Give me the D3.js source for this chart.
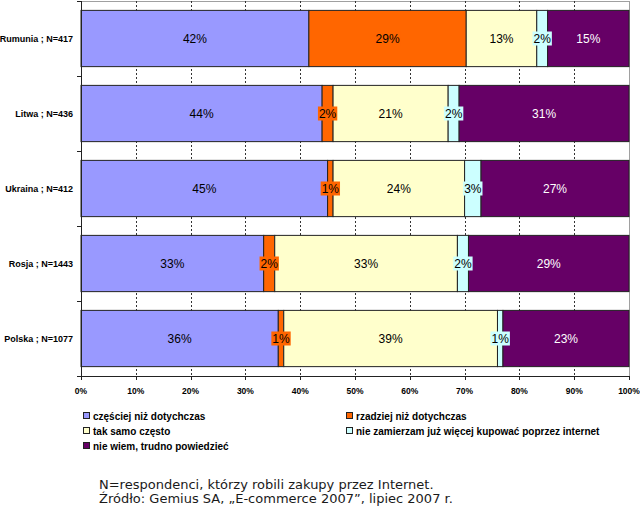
<!DOCTYPE html>
<html>
<head>
<meta charset="utf-8">
<script src="https://cdn.jsdelivr.net/npm/d3@7"></script>
<style>
  html, body { margin: 0; padding: 0; background: #fff; }
  svg { display: block; }
</style>
</head>
<body>
<svg id="chart" width="640" height="508"></svg>
<script>
// ---- data ----
const categories = ["Rumunia ; N=417", "Litwa ; N=436", "Ukraina ; N=412", "Rosja ; N=1443", "Polska ; N=1077"];
const seriesNames = ["częściej niż dotychczas", "rzadziej niż dotychczas", "tak samo często", "nie zamierzam już więcej kupować poprzez internet", "nie wiem, trudno powiedzieć"];
const czesciej = [42, 44, 45, 33, 36];
const rzadziej = [29, 2, 1, 2, 1];
const takSamo = [13, 21, 24, 33, 39];
const nieZamierzam = [2, 2, 3, 2, 1];
const nieWiem = [15, 31, 27, 29, 23];
const xTickValues = [0, 10, 20, 30, 40, 50, 60, 70, 80, 90, 100];
const footerLines = ["N=respondenci, którzy robili zakupy przez Internet.", "Źródło: Gemius SA, „E-commerce 2007”, lipiec 2007 r."];

// ---- styles ----
const colors = ["#9999ff", "#ff6600", "#ffffcc", "#ccffff", "#660066"];
const labelColors = ["#000", "#000", "#000", "#000", "#fff"];

const seriesValues = [czesciej, rzadziej, takSamo, nieZamierzam, nieWiem];
const rows = categories.map((c, i) => {
  const o = { cat: c };
  seriesNames.forEach((s, j) => o[s] = seriesValues[j][i]);
  return o;
});

const svg = d3.select("#chart");
const pLeft = 81, pRight = 629, pTop = 1, pBottom = 376;

const x = d3.scaleLinear().domain([0, 1]).range([pLeft, pRight]);
const y = d3.scaleBand().domain(categories).range([pTop, pBottom]).paddingInner(0.25).paddingOuter(0.125);

const stack = d3.stack().keys(seriesNames).offset(d3.stackOffsetExpand);
const stacked = stack(rows);

// plot border
svg.append("rect").attr("x", pLeft + 0.5).attr("y", pTop + 0.5).attr("width", pRight - pLeft).attr("height", pBottom - pTop)
  .attr("fill", "none").attr("stroke", "#a0a0a0").attr("stroke-width", 1);

// gridlines
svg.append("g").selectAll("line").data(xTickValues.slice(1, -1)).join("line")
  .attr("x1", d => Math.round(x(d / 100)) + 0.5).attr("x2", d => Math.round(x(d / 100)) + 0.5)
  .attr("y1", pTop).attr("y2", pBottom)
  .attr("stroke", "#333").attr("stroke-width", 1).attr("stroke-dasharray", "2,2");

// bars
const gSeries = svg.append("g").selectAll("g").data(stacked).join("g")
  .attr("fill", (d, i) => colors[i]);
gSeries.selectAll("rect").data(d => d).join("rect")
  .attr("x", d => x(d[0]))
  .attr("width", d => x(d[1]) - x(d[0]))
  .attr("y", d => y(d.data.cat))
  .attr("height", y.bandwidth())
  .attr("stroke", "#222").attr("stroke-width", 1);

// data labels
const labelFont = "12px 'Liberation Sans', Arial, sans-serif";
stacked.forEach((s, i) => {
  const g = svg.append("g");
  s.forEach((d, k) => {
    const cx = (x(d[0]) + x(d[1])) / 2;
    const cy = y(d.data.cat) + y.bandwidth() / 2;
    const txt = seriesValues[i][k] + "%";
    const t = g.append("text").attr("x", cx).attr("y", cy + 4.5)
      .attr("text-anchor", "middle").style("font", labelFont)
      .attr("fill", labelColors[i]).text(txt);
    const w = t.node().getComputedTextLength();
    g.insert("rect", "text").attr("x", cx - w / 2 - 1).attr("y", cy - 7).attr("width", w + 2).attr("height", 14)
      .attr("fill", colors[i]);
  });
});

// y axis
const yAxis = svg.append("g");
yAxis.append("line").attr("x1", pLeft + 0.5).attr("x2", pLeft + 0.5).attr("y1", pTop).attr("y2", pBottom).attr("stroke", "#222");
const bounds = d3.range(categories.length + 1).map(i => pTop + i * y.step());
yAxis.selectAll("line.tk").data(bounds).join("line").attr("class", "tk")
  .attr("x1", pLeft - 4).attr("x2", pLeft).attr("y1", d => Math.round(d) + 0.5).attr("y2", d => Math.round(d) + 0.5).attr("stroke", "#222");
yAxis.selectAll("text").data(categories).join("text")
  .attr("x", 73).attr("y", d => y(d) + y.bandwidth() / 2 + 3.5)
  .attr("text-anchor", "end")
  .style("font", "bold 9px 'Liberation Sans', Arial, sans-serif").attr("fill", "#000")
  .text(d => d);

// x axis
const xAxis = svg.append("g");
xAxis.append("line").attr("x1", pLeft).attr("x2", pRight).attr("y1", pBottom + 0.5).attr("y2", pBottom + 0.5).attr("stroke", "#222");
xAxis.selectAll("line.tk").data(xTickValues).join("line").attr("class", "tk")
  .attr("x1", d => Math.round(x(d / 100)) + 0.5).attr("x2", d => Math.round(x(d / 100)) + 0.5)
  .attr("y1", pBottom).attr("y2", pBottom + 4).attr("stroke", "#222");
xAxis.selectAll("text").data(xTickValues).join("text")
  .attr("x", d => x(d / 100)).attr("y", 394)
  .attr("text-anchor", "middle")
  .style("font", "bold 8.5px 'Liberation Sans', Arial, sans-serif").attr("fill", "#000")
  .text(d => d + "%");

// legend
const legendPos = [[83, 416], [346, 416], [83, 431], [346, 431], [83, 446]];
const lg = svg.append("g");
seriesNames.forEach((s, i) => {
  const [lx, ly] = legendPos[i];
  lg.append("rect").attr("x", lx + 0.5).attr("y", ly - 3.5).attr("width", 6).attr("height", 6)
    .attr("fill", colors[i]).attr("stroke", "#222");
  lg.append("text").attr("x", lx + 10).attr("y", ly + 3.5)
    .style("font", "bold 10px 'Liberation Sans', Arial, sans-serif").attr("fill", "#000").text(s);
});

// footer
svg.append("g").selectAll("text").data(footerLines).join("text")
  .attr("x", 99).attr("y", (d, i) => 489 + i * 13.5)
  .style("font", "13px 'DejaVu Sans', sans-serif").attr("fill", "#1a1a1a")
  .text(d => d);
</script>
</body>
</html>
